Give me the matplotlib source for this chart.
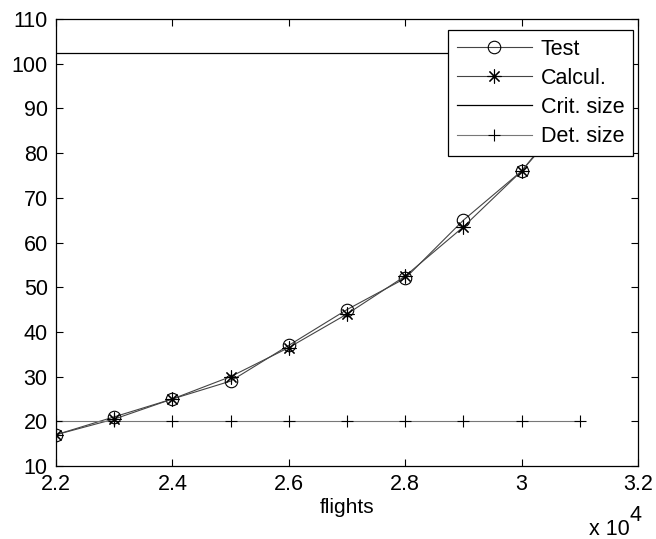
import numpy as np
import matplotlib.pyplot as plt

plt.rcParams['font.family'] = ['Liberation Sans', 'DejaVu Sans']

flights = [22000, 23000, 24000, 25000, 26000, 27000, 28000, 29000, 30000, 31000]
test = [17, 21, 25, 29, 37, 45, 52, 65, 76, 91]
calcul = [17, 20.5, 25, 30, 36.5, 44, 52.5, 63.5, 76, 92]
crit_size = 102.3
det_size = 20

x_ticks = [22000, 24000, 26000, 28000, 30000, 32000]
x_labels = ['2.2', '2.4', '2.6', '2.8', '3', '3.2']
y_ticks = [10, 20, 30, 40, 50, 60, 70, 80, 90, 100, 110]


def main():
    fig = plt.figure(figsize=(6.56, 5.39), dpi=100)
    ax = fig.add_axes([0.0854, 0.1354, 0.8872, 0.8293])

    ax.plot(flights, test, color='#444444', linewidth=0.8, marker='o',
            markersize=9, markerfacecolor='none', markeredgecolor='black',
            markeredgewidth=0.8, label='Test')
    ax.plot(flights, calcul, color='#444444', linewidth=0.8, marker=(8, 2, 0),
            markersize=10, markeredgecolor='black',
            markeredgewidth=0.8, label='Calcul.')
    ax.plot(flights, [crit_size] * len(flights), color='black', linewidth=0.9,
            label='Crit. size')
    ax.plot(flights, [det_size] * len(flights), color='#777777', linewidth=0.8,
            marker='+', markersize=9, markeredgecolor='black',
            markeredgewidth=0.8, label='Det. size')

    ax.set_xlim(22000, 32000)
    ax.set_ylim(10, 110)
    ax.set_xticks(x_ticks)
    ax.set_xticklabels(x_labels)
    ax.set_yticks(y_ticks)
    ax.tick_params(direction='in', top=True, right=True, labelsize=15.5,
                   length=5, width=0.8, pad=6)
    for s in ax.spines.values():
        s.set_linewidth(0.9)
    ax.set_xlabel('flights', fontsize=15, labelpad=2)
    # MATLAB-style exponent label: "x 10" with a full-size raised "4"
    fig.text(630 / 656, 4 / 539, 'x 10', fontsize=15.5,
             ha='right', va='baseline')
    fig.text(630 / 656, 18 / 539, '4', fontsize=15.5,
             ha='left', va='baseline')

    leg = ax.legend(loc='upper right', bbox_to_anchor=(633 / 656, 1 - 30 / 539),
                    bbox_transform=fig.transFigure, fontsize=15.5,
                    fancybox=False, framealpha=1, edgecolor='black',
                    borderaxespad=0, handlelength=3.5, labelspacing=0.38,
                    borderpad=0.4, handletextpad=0.4)
    leg.get_frame().set_linewidth(0.9)

    fig.savefig('out.png', dpi=100)


if __name__ == "__main__":
    main()
